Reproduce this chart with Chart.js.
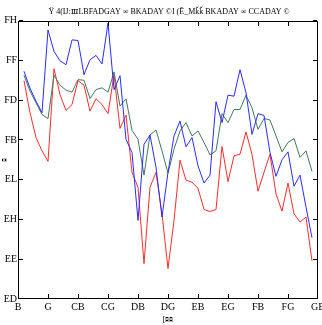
<!DOCTYPE html>
<html>
<head>
<meta charset="utf-8">
<script src="https://cdn.jsdelivr.net/npm/chart.js@4"></script>
<style>
  html, body { margin: 0; padding: 0; background: #fff; }
  #wrap { width: 322px; height: 325px; position: relative; }
  #marco { position: absolute; left: 0; top: 0; width: 322px; height: 325px; pointer-events: none; }
  #marco div { position: absolute; background: #000; }
  #marco .caja { background: transparent; border: 1px solid #000; box-sizing: border-box; }
</style>
</head>
<body>
<div id="wrap"><canvas id="grafico"></canvas><div id="marco"></div></div>
<script>
// Valores (índice 1..49).
const DIAS = [1, 2, 3, 4, 5, 6, 7, 8, 9, 10, 11, 12, 13, 14, 15, 16, 17, 18, 19, 20,
  21, 22, 23, 24, 25, 26, 27, 28, 29, 30, 31, 32, 33, 34, 35, 36, 37, 38, 39, 40,
  41, 42, 43, 44, 45, 46, 47, 48, 49];

const SERIE_AZUL = [43.45, 42.6, 41.95, 41.37, 45.53, 44.45, 43.98, 43.78, 45.03, 45.0,
  43.28, 44.03, 44.25, 43.82, 45.87, 42.53, 43.23, 40.03, 39.37, 35.95,
  39.78, 40.25, 38.62, 36.12, 38.37, 40.2, 40.95, 39.65, 40.12, 38.7,
  37.83, 38.23, 41.92, 40.87, 42.25, 42.2, 43.53, 42.37, 40.28, 41.32,
  41.23, 39.37, 38.17, 39.0, 39.4, 37.67, 38.23, 36.62, 35.08];

const SERIE_VERDE = [43.25, 42.45, 41.87, 41.28, 41.07, 43.25, 42.75, 42.5, 42.4, 43.03,
  43.0, 42.08, 42.53, 42.62, 42.4, 43.42, 41.7, 42.07, 40.48, 40.03,
  38.23, 40.25, 40.5, 39.45, 38.33, 39.53, 40.45, 40.87, 40.2, 40.45,
  39.87, 39.25, 39.45, 41.32, 40.87, 41.53, 41.53, 42.25, 41.62, 40.53,
  41.08, 41.0, 40.2, 39.4, 39.87, 40.07, 39.12, 39.45, 38.42];

const SERIE_ROJA = [42.98, 41.37, 40.12, 39.45, 38.92, 43.58, 42.28, 41.48, 41.78, 42.98,
  42.75, 41.45, 42.07, 41.78, 41.32, 43.28, 40.58, 41.25, 38.37, 37.62,
  33.78, 37.62, 38.37, 36.28, 33.53, 35.95, 38.98, 37.98, 37.87, 37.57,
  36.5, 36.4, 36.5, 39.67, 37.9, 39.2, 39.28, 40.4, 39.28, 37.42,
  38.37, 39.28, 37.28, 36.42, 37.83, 36.28, 35.87, 36.12, 33.92];

// Marcas de los ejes y sus textos tal como aparecen (glifos corridos en el original).
const X_MARCAS = [0, 5, 10, 15, 20, 25, 30, 35, 40, 45, 50];
const X_TEXTOS = ['B', 'G', 'CB', 'CG', 'DB', 'DG', 'EB', 'EG', 'FB', 'FG', 'GB'];
const Y_MARCAS = [32, 34, 36, 38, 40, 42, 44, 46];
const Y_TEXTOS = ['ED', 'EE', 'EH', 'EL', 'FB', 'FD', 'FF', 'FH'];

const TITULO = '\u2003\u2003Ÿ 4(Ĳ:ⅢLBFADGAY ∞ BKADAY ©I (Ē_Mǩǩ BKADAY ∞ CCADAY ©';
const TITULO_X = '[ﾛﾛ';
const TITULO_Y = 'ﾛ';

const FUENTE = '"Liberation Serif", "DejaVu Serif", serif';

function puntos(serie) {
  return serie.map((v, k) => ({ x: DIAS[k], y: v }));
}

function textoDe(marcas, textos, v) {
  const i = marcas.indexOf(v);
  return i >= 0 ? textos[i] : '';
}

function trazo(capa, clase, x, y, w, h) {
  const d = document.createElement('div');
  if (clase) d.className = clase;
  d.style.left = x + 'px';
  d.style.top = y + 'px';
  d.style.width = w + 'px';
  d.style.height = h + 'px';
  capa.appendChild(d);
}

// Marco completo y marcas hacia adentro en los cuatro lados (estilo matplotlib).
// Va en una capa HTML encima del canvas: dibujado en el canvas no aparecía.
const marcoPlugin = {
  id: 'marco',
  afterDraw(chart) {
    const capa = document.getElementById('marco');
    const a = chart.chartArea;
    const sx = chart.scales.x;
    const sy = chart.scales.y;
    const izq = Math.round(a.left);
    const der = Math.round(a.right);
    const arr = Math.round(a.top);
    const aba = Math.round(a.bottom);
    capa.innerHTML = '';
    trazo(capa, 'caja', izq, arr, der - izq, aba - arr);
    for (const v of X_MARCAS) {
      const px = Math.min(der - 1, Math.floor(sx.getPixelForValue(v)));
      trazo(capa, '', px, aba - 5, 1, 4);
      trazo(capa, '', px, arr + 1, 1, 4);
    }
    for (const v of Y_MARCAS) {
      const py = Math.min(aba - 1, Math.floor(sy.getPixelForValue(v)));
      trazo(capa, '', izq + 1, py, 4, 1);
      trazo(capa, '', der - 5, py, 4, 1);
    }
  },
};

new Chart(document.getElementById('grafico'), {
  type: 'line',
  data: {
    datasets: [
      { data: puntos(SERIE_AZUL), borderColor: '#2a2aff', borderWidth: 1, pointRadius: 0, tension: 0 },
      { data: puntos(SERIE_VERDE), borderColor: '#3f7a58', borderWidth: 1, pointRadius: 0, tension: 0 },
      { data: puntos(SERIE_ROJA), borderColor: '#ff2a2a', borderWidth: 1, pointRadius: 0, tension: 0 },
    ],
  },
  options: {
    responsive: true,
    maintainAspectRatio: false,
    animation: false,
    layout: { padding: { left: 0, right: 0, top: 0, bottom: 0 } },
    plugins: {
      legend: { display: false },
      tooltip: { enabled: false },
      title: {
        display: true,
        text: TITULO,
        color: '#000',
        font: { family: FUENTE, size: 8, weight: 'normal' },
        padding: { top: 7, bottom: 4 },
      },
    },
    scales: {
      x: {
        type: 'linear',
        min: 0,
        max: 50,
        grid: { display: false, drawTicks: false },
        border: { display: false },
        ticks: {
          stepSize: 5,
          color: '#000',
          padding: 2,
          maxRotation: 0,
          font: { family: FUENTE, size: 10 },
          callback: (v) => textoDe(X_MARCAS, X_TEXTOS, v),
        },
        title: {
          display: true,
          text: TITULO_X,
          color: '#000',
          padding: 0,
          font: { family: FUENTE, size: 8 },
        },
        afterFit: (s) => { s.height = 26; s.paddingLeft = 0; s.paddingRight = 4; },
      },
      y: {
        min: 32,
        max: 46,
        grid: { display: false, drawTicks: false },
        border: { display: false },
        ticks: {
          stepSize: 2,
          color: '#000',
          padding: 1,
          font: { family: FUENTE, size: 10 },
          callback: (v) => textoDe(Y_MARCAS, Y_TEXTOS, v),
        },
        title: {
          display: true,
          text: TITULO_Y,
          color: '#000',
          padding: 0,
          font: { family: FUENTE, size: 8 },
        },
        afterFit: (s) => { s.width = 18; },
      },
    },
  },
  plugins: [marcoPlugin],
});
</script>
</body>
</html>
